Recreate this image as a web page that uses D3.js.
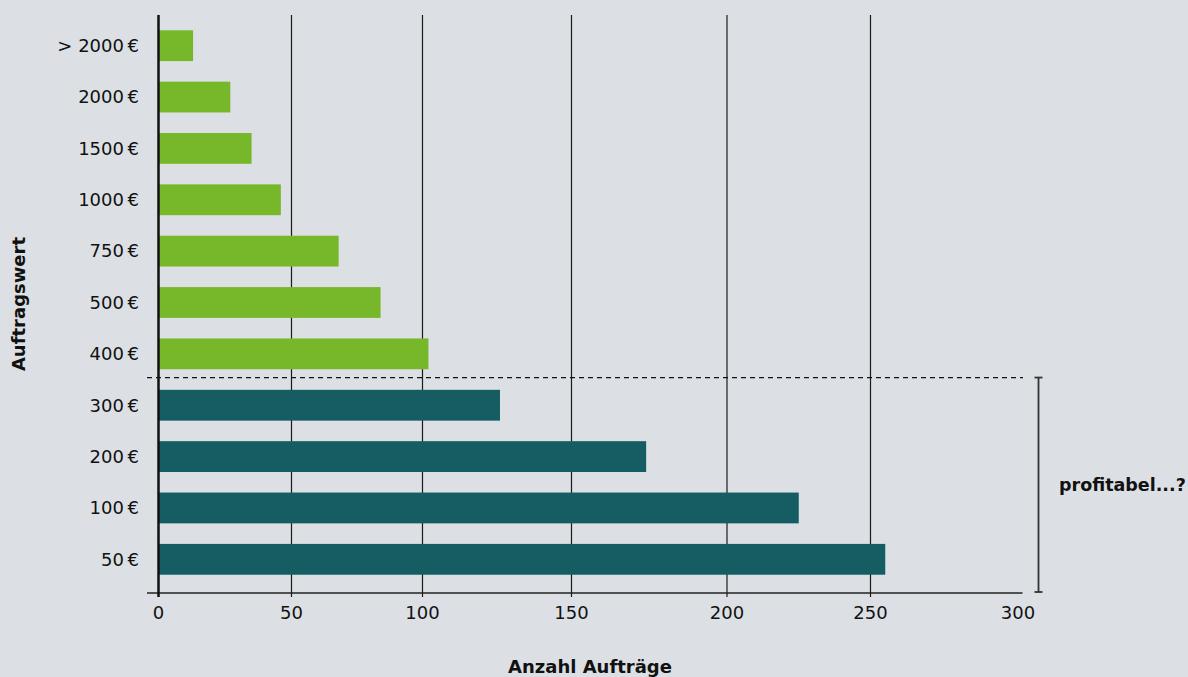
<!DOCTYPE html>
<html>
<head>
<meta charset="utf-8">
<script src="https://cdn.jsdelivr.net/npm/d3@7"></script>
<style>
  body { margin: 0; background: #dce0e4; }
  svg { display: block; font-family: "DejaVu Sans", sans-serif; }
</style>
</head>
<body>
<svg id="chart" width="1188" height="677"></svg>
<script>
// order values, top to bottom
var categories = ["> 2000\u202F€", "2000\u202F€", "1500\u202F€", "1000\u202F€", "750\u202F€", "500\u202F€",
  "400\u202F€", "300\u202F€", "200\u202F€", "100\u202F€", "50\u202F€"];
var counts = [13, 27, 35, 46, 68, 84, 102, 126, 174, 225, 255];
var profitable = [true, true, true, true, true, true, true, false, false, false, false];
var xTicks = [0, 50, 100, 150, 200, 250, 300];

var svg = d3.select("svg"),
  width = 1188,
  height = 677;

var green = "#77b82a",
  teal = "#155c63",
  ink = "#111";

svg.append("rect")
  .attr("width", width)
  .attr("height", height)
  .attr("fill", "#dce0e4");

// the grid in the original is not evenly spaced, so map each tick to its place
var x = d3.scaleLinear()
  .domain(xTicks)
  .range([158.5, 291.5, 422.5, 571.5, 727, 870.5, 1018]);

var y = d3.scaleBand()
  .domain(categories)
  .range([20, 585])
  .paddingInner(0.4)
  .paddingOuter(0.2);

var plotTop = 15,
  axisY = 593;

// gridlines (none drawn at the last tick)
svg.append("g")
  .selectAll("line")
  .data(xTicks.slice(1, -1))
  .enter().append("line")
  .attr("x1", function(d) { return x(d); })
  .attr("x2", function(d) { return x(d); })
  .attr("y1", plotTop)
  .attr("y2", axisY + 4)
  .attr("stroke", "#1a1a1a")
  .attr("stroke-width", 1.2);

// bars
svg.append("g")
  .selectAll("rect")
  .data(categories)
  .enter().append("rect")
  .attr("x", x(0))
  .attr("y", function(d) { return y(d); })
  .attr("width", function(d, i) { return x(counts[i]) - x(0); })
  .attr("height", y.bandwidth())
  .attr("fill", function(d, i) { return profitable[i] ? green : teal; });

// bottom axis line
svg.append("line")
  .attr("x1", 147).attr("x2", 1022.5)
  .attr("y1", axisY).attr("y2", axisY)
  .attr("stroke", "#222")
  .attr("stroke-width", 1.5);

// zero line
svg.append("line")
  .attr("x1", x(0)).attr("x2", x(0))
  .attr("y1", plotTop).attr("y2", axisY + 4)
  .attr("stroke", ink)
  .attr("stroke-width", 2.5);

// x tick labels
svg.append("g")
  .selectAll("text")
  .data(xTicks)
  .enter().append("text")
  .attr("x", function(d) { return x(d); })
  .attr("y", 619)
  .attr("text-anchor", "middle")
  .attr("font-size", 18)
  .attr("fill", ink)
  .text(function(d) { return d; });

// y tick labels
svg.append("g")
  .selectAll("text")
  .data(categories)
  .enter().append("text")
  .attr("x", 139)
  .attr("y", function(d) { return y(d) + y.bandwidth() / 2; })
  .attr("dy", "0.35em")
  .attr("text-anchor", "end")
  .attr("font-size", 18)
  .attr("fill", ink)
  .text(function(d) { return d; });

// profitability split
var splitY = (y(categories[6]) + y.bandwidth() + y(categories[7])) / 2 - 2;

svg.append("line")
  .attr("x1", 147).attr("x2", 1023)
  .attr("y1", splitY).attr("y2", splitY)
  .attr("stroke", ink)
  .attr("stroke-width", 1.2)
  .attr("stroke-dasharray", "5,4");

var bx = 1038.5;
var bracket = svg.append("g")
  .attr("stroke", "#333")
  .attr("stroke-width", 1.8);
bracket.append("line").attr("x1", bx).attr("x2", bx).attr("y1", splitY).attr("y2", axisY - 1);
bracket.append("line").attr("x1", bx - 4).attr("x2", bx + 4).attr("y1", splitY).attr("y2", splitY);
bracket.append("line").attr("x1", bx - 4).attr("x2", bx + 4).attr("y1", axisY - 1).attr("y2", axisY - 1);

svg.append("text")
  .attr("x", 1059)
  .attr("y", 491)
  .attr("font-size", 17.5)
  .attr("font-weight", "bold")
  .attr("fill", ink)
  .text("profitabel...?");

// axis titles
svg.append("text")
  .attr("transform", "translate(25,304) rotate(-90)")
  .attr("text-anchor", "middle")
  .attr("font-size", 18)
  .attr("font-weight", "bold")
  .attr("fill", ink)
  .text("Auftragswert");

svg.append("text")
  .attr("x", 590)
  .attr("y", 673)
  .attr("text-anchor", "middle")
  .attr("font-size", 18)
  .attr("font-weight", "bold")
  .attr("fill", ink)
  .text("Anzahl Aufträge");
</script>
</body>
</html>
